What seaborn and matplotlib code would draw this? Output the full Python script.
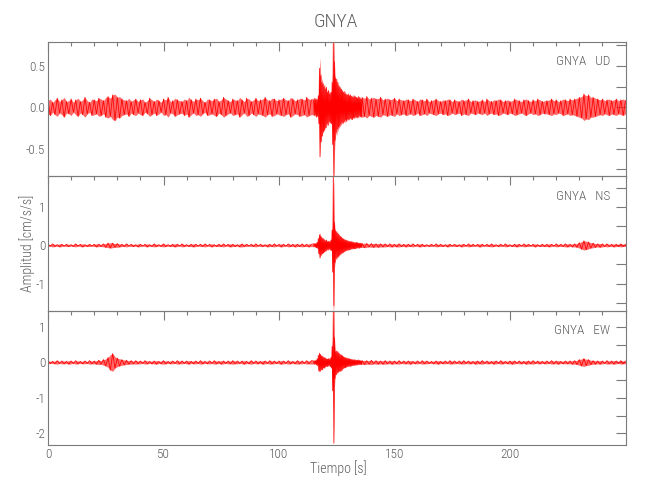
import matplotlib
matplotlib.use("Agg")
import numpy as np
import pandas as pd
import seaborn as sns
import matplotlib.pyplot as plt
from matplotlib import font_manager
from matplotlib.ticker import MultipleLocator, FormatStrFormatter, NullFormatter

# ---------------- data ----------------
station = "GNYA"
components = ["UD", "NS", "EW"]
x_ticks = [0, 50, 100, 150, 200]

# sample times: 1 s before/after the event window, 0.25 s inside it
t_pre = list(range(0, 115))
t_evt = [115 + 0.25 * k for k in range(84)]
t_post = list(range(136, 251))

ud_pre = [0.08,-0.10,0.06,-0.09,0.11,-0.07,0.09,-0.12,0.07,-0.08,
          0.10,-0.06,0.09,-0.11,0.07,-0.09,0.12,-0.08,0.06,-0.10,
          0.09,-0.08,0.11,-0.10,0.08,-0.12,0.13,-0.11,0.15,-0.16,
          0.12,-0.13,0.10,-0.09,0.08,-0.11,0.07,-0.09,0.10,-0.07,
          0.09,-0.10,0.06,-0.08,0.11,-0.09,0.07,-0.10,0.08,-0.06,
          0.10,-0.09,0.12,-0.07,0.08,-0.11,0.09,-0.08,0.07,-0.10,
          0.08,-0.12,0.09,-0.07,0.10,-0.09,0.11,-0.08,0.06,-0.10,
          0.09,-0.08,0.10,-0.11,0.07,-0.09,0.12,-0.10,0.08,-0.07,
          0.10,-0.09,0.08,-0.12,0.09,-0.07,0.11,-0.10,0.07,-0.09,
          0.11,-0.08,0.09,-0.10,0.12,-0.09,0.08,-0.11,0.10,-0.08,
          0.09,-0.10,0.11,-0.09,0.08,-0.12,0.10,-0.08,0.09,-0.11,
          0.10,-0.09,0.12,-0.10,0.09]
ud_evt = [0.09,-0.10,0.11,-0.09, 0.10,-0.12,0.09,-0.11,
          0.14,-0.20,0.47,-0.60, 0.38,-0.42,0.30,-0.35,
          0.28,-0.30,0.25,-0.28, 0.22,-0.25,0.24,-0.20,
          0.18,-0.22,0.20,-0.17, 0.16,-0.19,0.18,-0.20,
          0.30,-0.45,0.79,-0.84, 0.55,-0.40,0.35,-0.30,
          0.34,-0.26,0.30,-0.24, 0.26,-0.22,0.24,-0.20,
          0.22,-0.18,0.20,-0.19, 0.18,-0.17,0.19,-0.15,
          0.16,-0.17,0.15,-0.14, 0.16,-0.15,0.14,-0.13,
          0.15,-0.14,0.13,-0.15, 0.12,-0.13,0.14,-0.12,
          0.13,-0.11,0.12,-0.13, 0.11,-0.12,0.13,-0.10,
          0.12,-0.11,0.10,-0.12]
ud_post = [0.12,-0.11,0.13,-0.10,0.11,-0.12,0.10,-0.11,0.12,-0.09,
           0.10,-0.11,0.09,-0.10,0.11,-0.08,0.10,-0.09,0.08,-0.10,
           0.09,-0.08,0.10,-0.09,0.07,-0.10,0.09,-0.08,0.10,-0.07,
           0.08,-0.09,0.10,-0.08,0.07,-0.09,0.08,-0.10,0.09,-0.07,
           0.09,-0.08,0.07,-0.10,0.08,-0.09,0.10,-0.07,0.08,-0.09,
           0.07,-0.08,0.09,-0.07,0.10,-0.08,0.07,-0.09,0.08,-0.10,
           0.09,-0.07,0.08,-0.09,0.07,-0.08,0.10,-0.09,0.08,-0.07,
           0.09,-0.10,0.08,-0.07,0.09,-0.08,0.10,-0.09,0.07,-0.08,
           0.08,-0.09,0.10,-0.08,0.09,-0.07,0.08,-0.10,0.09,-0.08,
           0.10,-0.09,0.10,-0.11,0.12,-0.13,0.16,-0.14,0.15,-0.12,
           0.12,-0.11,0.10,-0.09,0.10,-0.08,0.09,-0.10,0.08,-0.09,
           0.10,-0.08,0.09,-0.10,0.08]

ns_pre = [0.03,-0.02,0.04,-0.03,0.02,-0.04,0.03,-0.02,0.03,-0.03,
          0.02,-0.03,0.04,-0.02,0.03,-0.04,0.02,-0.03,0.03,-0.02,
          0.03,-0.04,0.03,-0.03,0.04,-0.05,0.06,-0.07,0.06,-0.05,
          0.05,-0.04,0.03,-0.03,0.04,-0.02,0.03,-0.03,0.02,-0.04,
          0.03,-0.02,0.03,-0.04,0.02,-0.03,0.04,-0.03,0.02,-0.03,
          0.04,-0.03,0.02,-0.03,0.03,-0.04,0.03,-0.02,0.04,-0.03,
          0.02,-0.03,0.03,-0.04,0.03,-0.02,0.03,-0.03,0.04,-0.02,
          0.03,-0.04,0.02,-0.03,0.03,-0.03,0.04,-0.02,0.03,-0.04,
          0.03,-0.03,0.02,-0.04,0.04,-0.03,0.03,-0.02,0.03,-0.03,
          0.04,-0.02,0.03,-0.03,0.02,-0.04,0.03,-0.03,0.04,-0.02,
          0.03,-0.04,0.03,-0.02,0.04,-0.03,0.03,-0.04,0.03,-0.03,
          0.04,-0.03,0.03,-0.04,0.03]
ns_evt = [0.04,-0.03,0.05,-0.04, 0.05,-0.06,0.08,-0.07,
          0.18,-0.22,0.28,-0.33, 0.24,-0.26,0.20,-0.22,
          0.18,-0.20,0.15,-0.17, 0.12,-0.15,0.14,-0.11,
          0.10,-0.12,0.11,-0.09, 0.10,-0.12,0.14,-0.13,
          0.40,-0.70,1.81,-1.58, 0.60,-0.45,0.38,-0.34,
          0.36,-0.30,0.32,-0.28, 0.28,-0.25,0.24,-0.22,
          0.22,-0.20,0.18,-0.19, 0.17,-0.16,0.15,-0.14,
          0.14,-0.12,0.13,-0.12, 0.11,-0.12,0.10,-0.11,
          0.10,-0.09,0.10,-0.08, 0.09,-0.08,0.08,-0.09,
          0.07,-0.08,0.08,-0.06, 0.07,-0.06,0.06,-0.07,
          0.06,-0.05,0.06,-0.05]
ns_post = [0.05,-0.06,0.05,-0.04,0.05,-0.05,0.04,-0.05,0.04,-0.04,
           0.04,-0.03,0.04,-0.04,0.03,-0.04,0.04,-0.03,0.03,-0.04,
           0.03,-0.03,0.04,-0.02,0.03,-0.04,0.03,-0.03,0.02,-0.03,
           0.03,-0.02,0.04,-0.03,0.03,-0.03,0.02,-0.04,0.03,-0.02,
           0.03,-0.03,0.02,-0.04,0.03,-0.02,0.04,-0.03,0.03,-0.02,
           0.03,-0.04,0.03,-0.02,0.03,-0.03,0.04,-0.03,0.02,-0.03,
           0.03,-0.02,0.04,-0.03,0.02,-0.03,0.03,-0.04,0.03,-0.02,
           0.04,-0.03,0.03,-0.02,0.03,-0.04,0.02,-0.03,0.03,-0.03,
           0.03,-0.04,0.03,-0.02,0.04,-0.03,0.03,-0.03,0.04,-0.04,
           0.03,-0.04,0.04,-0.05,0.07,-0.10,0.12,-0.11,0.09,-0.07,
           0.06,-0.05,0.04,-0.05,0.04,-0.03,0.04,-0.03,0.03,-0.04,
           0.03,-0.03,0.04,-0.03,0.03]

ew_pre = [0.04,-0.03,0.03,-0.04,0.05,-0.03,0.04,-0.04,0.03,-0.05,
          0.04,-0.03,0.05,-0.04,0.03,-0.04,0.04,-0.03,0.05,-0.04,
          0.04,-0.05,0.06,-0.05,0.08,-0.10,0.14,-0.22,0.25,-0.16,
          0.12,-0.10,0.08,-0.07,0.06,-0.05,0.05,-0.04,0.05,-0.04,
          0.04,-0.03,0.05,-0.04,0.03,-0.04,0.04,-0.05,0.03,-0.04,
          0.05,-0.04,0.03,-0.04,0.04,-0.03,0.05,-0.04,0.04,-0.03,
          0.04,-0.05,0.03,-0.04,0.04,-0.03,0.05,-0.04,0.03,-0.04,
          0.04,-0.03,0.05,-0.04,0.03,-0.05,0.04,-0.03,0.04,-0.04,
          0.05,-0.04,0.04,-0.03,0.04,-0.05,0.03,-0.04,0.05,-0.03,
          0.04,-0.04,0.03,-0.05,0.04,-0.03,0.05,-0.04,0.04,-0.03,
          0.04,-0.05,0.04,-0.03,0.05,-0.04,0.03,-0.04,0.05,-0.04,
          0.04,-0.03,0.05,-0.04,0.05]
ew_evt = [0.04,-0.05,0.05,-0.04, 0.06,-0.07,0.10,-0.08,
          0.20,-0.24,0.26,-0.25, 0.22,-0.20,0.18,-0.21,
          0.16,-0.15,0.14,-0.16, 0.12,-0.11,0.10,-0.12,
          0.09,-0.10,0.11,-0.08, 0.10,-0.12,0.14,-0.16,
          0.45,-0.80,1.42,-2.28, 0.70,-0.45,0.30,-0.35,
          0.32,-0.28,0.30,-0.26, 0.26,-0.24,0.22,-0.25,
          0.20,-0.22,0.18,-0.17, 0.16,-0.15,0.14,-0.15,
          0.13,-0.12,0.12,-0.11, 0.11,-0.10,0.10,-0.11,
          0.09,-0.10,0.08,-0.09, 0.08,-0.07,0.08,-0.08,
          0.07,-0.07,0.06,-0.07, 0.06,-0.06,0.07,-0.05,
          0.06,-0.05,0.05,-0.06]
ew_post = [0.05,-0.06,0.05,-0.05,0.06,-0.04,0.05,-0.05,0.04,-0.05,
           0.05,-0.04,0.04,-0.05,0.04,-0.04,0.05,-0.03,0.04,-0.04,
           0.04,-0.05,0.03,-0.04,0.04,-0.03,0.05,-0.04,0.04,-0.03,
           0.03,-0.04,0.04,-0.05,0.03,-0.04,0.04,-0.03,0.05,-0.04,
           0.04,-0.03,0.04,-0.04,0.05,-0.03,0.04,-0.04,0.03,-0.05,
           0.04,-0.04,0.05,-0.03,0.04,-0.04,0.03,-0.05,0.04,-0.03,
           0.05,-0.04,0.03,-0.04,0.04,-0.05,0.04,-0.03,0.04,-0.04,
           0.03,-0.05,0.04,-0.04,0.05,-0.03,0.04,-0.04,0.03,-0.04,
           0.04,-0.03,0.05,-0.04,0.04,-0.05,0.03,-0.04,0.04,-0.04,
           0.04,-0.05,0.05,-0.06,0.08,-0.10,0.11,-0.09,0.08,-0.06,
           0.05,-0.05,0.04,-0.05,0.04,-0.03,0.05,-0.04,0.04,-0.05,
           0.04,-0.03,0.05,-0.04,0.04]

# ---------------- style ----------------
sns.set_style("white")
names = {f.name for f in font_manager.fontManager.ttflist}
candidates = ["Liberation Sans Narrow", "Roboto Condensed", "Open Sans Condensed",
              "Roboto", "Lato", "DejaVu Sans"]
main_font = next((c for c in candidates if c in names), "DejaVu Sans")
plt.rcParams["font.family"] = [main_font, "DejaVu Sans"]
plt.rcParams["font.weight"] = "light"
TXT = "#5e5e5e"
AX = "#7a7a7a"
RED = "#ff0000"

fig = plt.figure(figsize=(6.5, 5), dpi=100)
fig.patch.set_facecolor("white")

left, width = 48 / 650, 577.5 / 650
h = 0.2687
bottoms = [0.11 + 2 * h, 0.11 + h, 0.11]

series = {
    "UD": (ud_pre + ud_evt + ud_post, (-0.835, 0.79), 0.5, 0.25, "%.1f"),
    "NS": (ns_pre + ns_evt + ns_post, (-1.71, 1.81), 1.0, 0.5, "%d"),
    "EW": (ew_pre + ew_evt + ew_post, (-2.33, 1.46), 1.0, 0.5, "%d"),
}
times = t_pre + t_evt + t_post

for i, comp in enumerate(components):
    vals, ylim, ymaj, ymin, fmt = series[comp]
    df = pd.DataFrame({"t": times, "a": vals})
    env = df["a"].abs()
    ax = fig.add_axes([left, bottoms[i], width, h])
    # band between the read peak amplitudes, trace drawn on top
    ax.fill_between(df["t"], -env, env, color="#ff2a2a", alpha=0.7,
                    linewidth=0)
    sns.lineplot(data=df, x="t", y="a", ax=ax, color=RED,
                 linewidth=0.55, estimator=None, sort=False)
    ax.set_xlim(0, 250)
    ax.set_ylim(*ylim)
    ax.set_xlabel("")
    ax.set_ylabel("")
    ax.xaxis.set_major_locator(plt.FixedLocator(x_ticks))
    ax.xaxis.set_minor_locator(MultipleLocator(10))
    ax.yaxis.set_major_locator(MultipleLocator(ymaj))
    ax.yaxis.set_minor_locator(MultipleLocator(ymin))
    ax.yaxis.set_major_formatter(FormatStrFormatter(fmt))
    ax.tick_params(axis="both", which="both", direction="in", top=True,
                   right=True, color=AX, width=0.8, labelcolor=TXT,
                   labelsize=9.5, pad=2)
    ax.tick_params(axis="x", which="major", length=6.5)
    ax.tick_params(axis="x", which="minor", length=3.2)
    ax.tick_params(axis="y", which="both", length=7)
    if i < 2:
        ax.xaxis.set_major_formatter(NullFormatter())
    for s in ax.spines.values():
        s.set_color(AX)
        s.set_linewidth(0.8)
    ax.set_facecolor("none")
    top_px = (1 - (bottoms[i] + h)) * 500
    fig.text(610 / 650, 1 - (top_px + 20) / 500, f"{station}   {comp}",
             ha="right", va="center", fontsize=9.5, color=TXT)

fig.text(336 / 650, 1 - 22 / 500, station, ha="center", va="center",
         fontsize=14, color=TXT)
fig.text(27 / 650, 1 - 243 / 500, "Amplitud [cm/s/s]", rotation=90,
         ha="center", va="center", fontsize=10, color=TXT)
fig.text(338 / 650, 1 - 468 / 500, "Tiempo [s]", ha="center", va="center",
         fontsize=10, color=TXT)

fig.savefig("out.png", dpi=100, facecolor="white")
